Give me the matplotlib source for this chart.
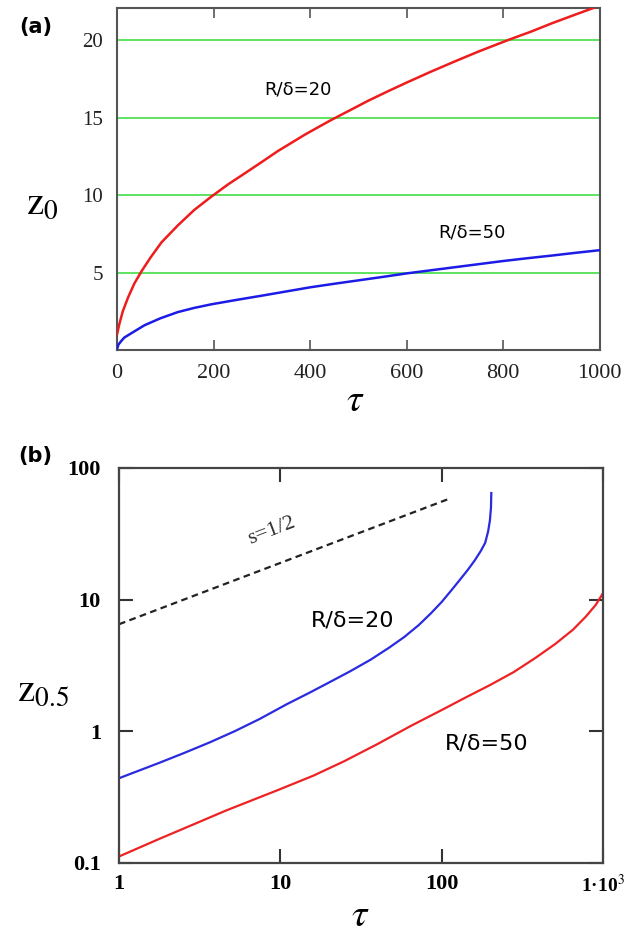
import matplotlib
matplotlib.use("Agg")
import matplotlib.pyplot as plt
from matplotlib.ticker import FixedLocator, NullLocator

plt.rcParams["mathtext.fontset"] = "stix"

# panel (a): z0 vs tau, linear axes
tau_a_red = [0, 5, 12, 23, 36, 51, 70, 92, 126, 160, 195, 230, 264, 300, 333,
             390, 440, 480, 520, 560, 600, 650, 700, 750, 812, 860, 900, 950, 1000]
z0_red = [1.0, 1.7, 2.5, 3.4, 4.3, 5.1, 6.0, 6.95, 8.05, 9.05, 9.9, 10.7, 11.4,
          12.15, 12.85, 13.93, 14.8, 15.45, 16.1, 16.7, 17.28, 17.98, 18.65, 19.3,
          20.05, 20.6, 21.1, 21.68, 22.25]
tau_a_blue = [0, 3, 8, 15, 30, 57, 90, 126, 160, 195, 250, 298, 350, 400, 450,
              500, 550, 600, 650, 700, 750, 800, 850, 900, 950, 1000]
z0_blue = [0.05, 0.35, 0.55, 0.8, 1.09, 1.6, 2.05, 2.45, 2.72, 2.95, 3.25, 3.5,
           3.78, 4.05, 4.28, 4.5, 4.72, 4.95, 5.15, 5.35, 5.55, 5.75, 5.93, 6.1,
           6.28, 6.45]
grid_a = [5, 10, 15, 20]
xticks_a = [0, 200, 400, 600, 800, 1000]

# panel (b): z0.5 vs tau, log-log axes
tau_b_blue = [1, 1.77, 2.5, 3.62, 5.2, 7.44, 10.9, 15, 19.4, 27, 36.3, 47, 58.6,
              72, 86, 100, 115, 130, 145, 160, 175, 186, 194, 199, 202, 203]
z05_blue = [0.44, 0.575, 0.68, 0.82, 1.0, 1.24, 1.6, 1.95, 2.3, 2.85, 3.5, 4.3,
            5.2, 6.4, 7.9, 9.6, 11.8, 14.2, 16.8, 19.8, 23.5, 27, 33, 40, 50, 64.5]
tau_b_red = [1, 1.77, 3, 4.6, 9.5, 16, 24.7, 40, 64.5, 100, 140, 200, 280, 380,
             505, 650, 780, 900, 1000]
z05_red = [0.112, 0.152, 0.2, 0.25, 0.355, 0.46, 0.59, 0.8, 1.1, 1.45, 1.8, 2.25,
           2.82, 3.6, 4.6, 5.9, 7.4, 9.1, 11.2]
tau_slope = [1, 114]
z_slope = [6.5, 59]
xticks_b = [1, 10, 100, 1000]
xlabels_b = ["1", "10", "100", "1\u00b710$^{3}$"]
yticks_b = [0.1, 1, 10, 100]
ylabels_b = ["0.1", "1", "10", "100"]

FRAME = "#555555"
TICKFONT = ["Liberation Serif", "DejaVu Serif"]

fig = plt.figure(figsize=(6.27, 9.48), dpi=100)

# ---- (a)
ax = fig.add_axes([0.1866, 0.6308, 0.770, 0.3608])
for g in grid_a:
    ax.axhline(g, color="#5fe35f", lw=1.4, zorder=1)
ax.plot(tau_a_red, z0_red, color="#ee1c1c", lw=1.8, zorder=3)
ax.plot(tau_a_blue, z0_blue, color="#1c1ce6", lw=1.8, zorder=3)
ax.set_xlim(0, 1000)
ax.set_ylim(0, 22.1)
ax.set_xticks(xticks_a)
ax.set_yticks(grid_a)
ax.tick_params(axis="x", direction="in", top=True, length=7, width=1.2,
               color=FRAME, pad=10, labelsize=16)
ax.tick_params(axis="y", length=0, pad=10, labelsize=15)
for lab in ax.get_xticklabels() + ax.get_yticklabels():
    lab.set_family(TICKFONT)
    lab.set_color("#222222")
for s in ax.spines.values():
    s.set_color(FRAME)
    s.set_linewidth(1.5)
ax.text(375, 16.8, "R/\u03b4=20", fontsize=13, ha="center", va="center")
ax.text(735, 7.6, "R/\u03b4=50", fontsize=13, ha="center", va="center")
fig.text(0.068, 0.786, r"$\mathrm{z}_0$", fontsize=28,
         ha="center", va="center")
fig.text(0.566, 0.578, r"$\tau$", fontsize=28, ha="center", va="center")
fig.text(0.057, 0.972, "(a)", fontsize=15, fontweight="bold",
         ha="center", va="center")

# ---- (b)
bx = fig.add_axes([0.1898, 0.0897, 0.772, 0.4167])
bx.plot(tau_b_blue, z05_blue, color="#2a2ae0", lw=1.6)
bx.plot(tau_b_red, z05_red, color="#ee2222", lw=1.6)
bx.plot(tau_slope, z_slope, color="#222222", lw=1.6, ls=(0, (3, 2)))
bx.set_xscale("log")
bx.set_yscale("log")
bx.set_xlim(1, 1000)
bx.set_ylim(0.1, 100)
bx.xaxis.set_major_locator(FixedLocator(xticks_b))
bx.yaxis.set_major_locator(FixedLocator(yticks_b))
bx.xaxis.set_minor_locator(NullLocator())
bx.yaxis.set_minor_locator(NullLocator())
bx.set_xticklabels(xlabels_b)
bx.set_yticklabels(ylabels_b)
bx.tick_params(direction="in", top=True, right=True, length=10, width=1.5,
               color="#333333", labelsize=16)
bx.tick_params(axis="x", pad=8)
bx.tick_params(axis="y", pad=13)
for lab in bx.get_xticklabels() + bx.get_yticklabels():
    lab.set_family(TICKFONT)
    lab.set_fontweight("bold")
last = bx.get_xticklabels()[-1]
last.set_fontsize(14)
for s in bx.spines.values():
    s.set_color("#444444")
    s.set_linewidth(1.6)
bx.text(28, 7.0, "R/\u03b4=20", fontsize=16, ha="center", va="center")
bx.text(190, 0.81, "R/\u03b4=50", fontsize=16, ha="center", va="center")
bx.text(8.8, 33, "s=1/2", fontsize=16, family=TICKFONT, rotation=21,
        ha="center", va="center", color="#333333")
fig.text(0.068, 0.272, r"$\mathrm{z}_{0.5}$", fontsize=28,
         ha="center", va="center")
fig.text(0.575, 0.035, r"$\tau$", fontsize=28, ha="center", va="center")
fig.text(0.057, 0.519, "(b)", fontsize=15, fontweight="bold",
         ha="center", va="center")

fig.savefig("out.png", dpi=100, facecolor="white")
